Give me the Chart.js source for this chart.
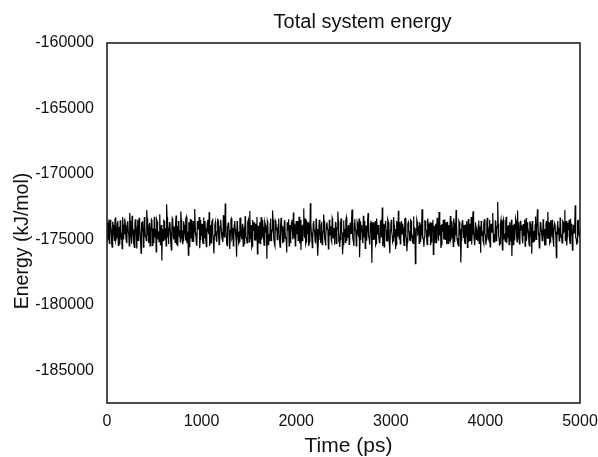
<!DOCTYPE html>
<html><head><meta charset="utf-8">
<script src="https://cdn.jsdelivr.net/npm/chart.js@4/dist/chart.umd.min.js"></script>
<style>html,body{margin:0;padding:0;background:#fff}#wrap{width:598px;height:457px}</style>
</head><body><div id="wrap"><canvas id="c" width="598" height="457"></canvas></div>
<script>
const chartTitle = 'Total system energy';
const xTitle = 'Time (ps)';
const yTitle = 'Energy (kJ/mol)';
const timeStepPs = 10;
const xTicks = [0, 1000, 2000, 3000, 4000, 5000];
const yTicks = [-185000, -180000, -175000, -170000, -165000, -160000];
const yMin = -187500, yMax = -160000;
const xMin = 0, xMax = 5000;
// samples at t = 0, 10, 20, ... 5000 ps
const energies = [
-174120,-175050,-173480,-174760,-173920,-175380,-173650,-174480,-175120,-173310,-174870,-173760,-175460,-174050,-173540,-174960,-175700,-173880,-174330,-173420,
-174910,-175230,-173590,-174640,-172980,-174780,-175340,-173820,-174250,-175620,-173460,-174700,-173990,-175080,-173350,-174560,-176050,-174020,-173610,-175190,
-173880,-174720,-172760,-174450,-175280,-173740,-174910,-173500,-175470,-174180,-173270,-174830,-175960,-173650,-174390,-175180,-173080,-174600,-176620,-174230,
-173560,-175010,-174140,-172310,-174860,-175350,-173720,-174470,-175810,-173390,-174660,-174020,-175240,-173180,-174790,-175520,-173840,-174300,-172880,-174950,
-175380,-173630,-174520,-175090,-173270,-174810,-176200,-174060,-173450,-174880,-175150,-173600,-174410,-172690,-174740,-175430,-173890,-174210,-175670,-173500,
-174630,-175040,-173330,-174870,-174160,-175560,-173710,-174380,-172920,-174990,-175270,-173560,-174520,-176080,-173940,-174310,-175190,-173420,-174760,-175390,
-173680,-174450,-175020,-173150,-174820,-172260,-174590,-175480,-173790,-174260,-175740,-173470,-174930,-174110,-175300,-173590,-174680,-176330,-173860,-174400,
-175160,-173380,-174790,-173920,-175510,-174170,-173240,-174860,-175270,-173700,-174430,-172840,-174970,-175620,-173530,-174350,-175080,-173810,-174690,-176110,
-173960,-174540,-175320,-173290,-174780,-174060,-175450,-173640,-174300,-176480,-173770,-174880,-175140,-173410,-174610,-172790,-174920,-175360,-173580,-174250,
-175030,-173860,-174710,-175590,-173350,-174480,-173990,-175210,-173540,-174820,-176010,-174090,-173470,-174950,-175280,-173720,-174380,-172950,-174860,-175490,
-173610,-174560,-175070,-173280,-174740,-175820,-173900,-174320,-172640,-174890,-175350,-173550,-174610,-174050,-175180,-172240,-174470,-175640,-173780,-174290,
-175110,-173420,-174840,-176250,-173990,-174530,-175300,-173650,-174770,-173110,-174920,-175460,-173830,-174200,-175730,-173500,-174650,-175060,-173360,-174880,
-174130,-175400,-173690,-174370,-172870,-174950,-175590,-173800,-174460,-176140,-173560,-174790,-175230,-173320,-174610,-174010,-175380,-173730,-174540,-172720,
-174870,-175500,-173470,-174290,-175160,-173880,-174720,-176370,-173610,-174450,-175040,-173190,-174830,-175690,-173940,-174360,-172980,-174900,-175330,-173570,
-176780,-174250,-173720,-174980,-175420,-173400,-174630,-174080,-175260,-173660,-174810,-172560,-174540,-175580,-173850,-174310,-175120,-173490,-174740,-176060,
-173980,-174420,-175210,-173300,-174860,-175740,-173760,-174190,-172820,-174970,-175350,-173620,-174580,-174100,-175470,-173440,-174700,-175900,-173810,-174350,
-175040,-173530,-174760,-175170,-173260,-174880,-176850,-174230,-173670,-174520,-175300,-173890,-174650,-172700,-174940,-175560,-173590,-174280,-175090,-173410,
-174800,-174040,-175440,-173730,-174390,-176150,-173960,-174610,-175250,-173350,-174850,-172910,-174560,-175660,-173840,-174300,-175010,-173480,-174720,-175380,
-173650,-174470,-175120,-173210,-174830,-174150,-175530,-173770,-174410,-172750,-174960,-175290,-173600,-174680,-176760,-174010,-173520,-174890,-175190,-173860,
-174340,-175610,-173440,-174750,-175070,-173290,-174590,-172850,-174920,-175450,-173700,-174260,-175140,-173560,-174800,-176020,-173930,-174380,-175320,-173470,
-174690,-175020,-173360,-174870,-174090,-175570,-173810,-174440,-172980,-174930,-175240,-173640,-174220,-172150,-174760,-175480,-173750,-174330,-175800,-173520,
-174610,-175150,-173280,-174840,-173990,-175400,-173690,-174480,-176270,-173900,-174560,-175080,-173430,-174770,-172800,-174990,-175350,-173580,-174270,-175060,
-173830,-174700,-175510,-173380,-174450,-174060,-175230,-173620,-174820,-176100,-173950,-174360,-175170,-173250,-174880,-172700,-174520,-175650,-173710,-174300,
-175090,-173470,-174740,-175420,-173860,-174210,-172910,-174960,-175300,-173540,-174620,-174000,-175560,-173780,-174410,-176400,-173920,-174580,-175120,-173330,
-174850,-175270,-173600,-174390,-172760,-174970,-175460,-173740,-174280,-175030,-173420,-174720,-175830,-173890,-174500,-172400,-174930,-175210,-173560,-174350,
-174800
];
// samples at t = 5, 15, 25, ... 4995 ps
const energiesMid = [
-173700,-174900,-175300,-173500,-174300,-175600,-173900,-174700,-173400,-175100,-174200,-173600,-174800,-175400,-173800,-174500,-173300,-175000,-174600,-173900,
-175200,-173700,-174400,-175500,-173600,-174900,-173200,-174600,-175300,-173800,-174100,-175700,-173500,-174800,-174000,-175200,-173700,-174400,-175600,-173300,
-174800,-175100,-173400,-174300,-173900,-175500,-174500,-173600,-174900,-175300,-173800,-174200,-173500,-175000,-174700,-173400,-175400,-173900,-174400,-175100,
-173600,-174700,-175500,-173300,-174100,-174900,-173700,-175300,-174200,-173500,-175000,-174600,-173800,-175400,-174000,-173600,-174800,-175200,-173500,-174300,
-175100,-173900,-174600,-173400,-175300,-174400,-173700,-175600,-174000,-173500,-174900,-175200,-173800,-174500,-175400,-173600,-174200,-173300,-175000,-174700,
-173800,-175300,-174300,-173600,-175100,-174800,-173500,-174600,-175500,-173900,-174100,-173400,-175200,-174700,-173700,-175000,-174400,-173600,-175400,-174000,
-173500,-174900,-175200,-173800,-174400,-173600,-175300,-174100,-173700,-175000,-174500,-173400,-174800,-175500,-173900,-174200,-175100,-173600,-174700,-175300,
-173400,-174600,-175000,-173800,-174300,-175400,-173600,-174900,-174100,-173500,-175200,-174700,-173900,-175500,-174000,-173700,-174800,-175100,-173300,-174500,
-175300,-173700,-174400,-175000,-173500,-174800,-175200,-173900,-174200,-173600,-175400,-174600,-173800,-175100,-174300,-173500,-174900,-175500,-173700,-174100,
-174700,-173400,-175200,-174000,-173800,-175300,-174500,-173600,-174900,-175100,-173700,-174300,-175500,-173900,-174600,-173500,-175000,-174200,-173800,-175400,
-174000,-173600,-174800,-175300,-173500,-174400,-175100,-173900,-174700,-173400,-175200,-174300,-173700,-175500,-174100,-173800,-174900,-175000,-173600,-174500,
-175300,-173800,-174200,-175000,-173500,-174700,-173900,-175400,-174400,-173600,-175100,-174800,-173700,-174300,-175500,-173900,-174000,-175200,-173500,-174600,
-174900,-173700,-175300,-174100,-173600,-174800,-175000,-173400,-174500,-175400,-173800,-174200,-173500,-175100,-174700,-173900,-175300,-174000,-173600,-174900,
-175200,-173800,-174300,-175500,-173700,-174600,-173400,-175000,-174400,-173900,-175300,-174100,-173600,-174800,-175100,-173500,-174700,-175400,-173800,-174200,
-173700,-175000,-174500,-173600,-175300,-174000,-173900,-174800,-175200,-173500,-174400,-175500,-173800,-174100,-173600,-175100,-174600,-173700,-175400,-174300,
-173500,-174700,-175100,-173900,-174200,-175400,-173600,-174800,-174000,-173700,-175300,-174500,-173800,-175000,-174300,-173400,-174900,-175200,-173700,-174400,
-175100,-173600,-174700,-175300,-173800,-174100,-175500,-173500,-174600,-174000,-173700,-175200,-174400,-173900,-175000,-174800,-173600,-174300,-175400,-173800,
-174500,-173700,-175200,-174000,-173500,-174900,-175300,-173800,-174300,-173600,-175100,-174700,-173900,-175400,-174200,-173500,-174800,-175000,-173700,-174600,
-175300,-173900,-174100,-175000,-173600,-174700,-173400,-175200,-174500,-173800,-174900,-175500,-173700,-174200,-175100,-173600,-174400,-173900,-175300,-174800,
-173600,-174300,-175200,-173800,-174600,-175400,-173500,-174100,-174900,-173700,-175000,-174400,-173900,-175300,-174000,-173600,-174700,-175100,-173800,-174500,
-175400,-173700,-174200,-175000,-173500,-174800,-174300,-173900,-175200,-174600,-173600,-175100,-174000,-173800,-174900,-175300,-173500,-174400,-173700,-175000,
-174700,-173600,-175300,-174100,-173900,-174800,-175100,-173500,-174500,-175400,-173800,-174000,-173600,-175200,-174600,-173700,-175000,-174300,-173900,-175300,
-174200,-173500,-174900,-175100,-173700,-174400,-175500,-173800,-174100,-173600,-175200,-174700,-173900,-175000,-174300,-173500,-174800,-175300,-173700,-174600,
-175100,-173800,-174200,-175400,-173600,-174900,-174000,-173700,-175200,-174500,-173500,-175000,-174300,-173900,-174700,-175300,-173600,-174100,-175000,-173800,
-174600,-175200,-173700,-174300,-175100,-173600,-174800,-174000,-173500,-175300,-174400,-173800,-175000,-174200,-173700,-174900,-175400,-173600,-174500,-174800
];

const FONT = '"Liberation Sans", Arial, sans-serif';

function buildPoints() {
  const pts = [];
  for (let i = 0; i < energies.length; i++) {
    pts.push({ x: i * timeStepPs, y: energies[i] });
    if (i < energiesMid.length) pts.push({ x: i * timeStepPs + timeStepPs / 2, y: energiesMid[i] });
  }
  return pts;
}

const framePlugin = {
  id: 'frame',
  afterDatasetsDraw(chart) {
    const a = chart.chartArea, ctx = chart.ctx;
    ctx.save();
    ctx.strokeStyle = '#222';
    ctx.lineWidth = 1.6;
    ctx.strokeRect(a.left, a.top, a.right - a.left, a.bottom - a.top);
    ctx.restore();
  }
};

const titlesPlugin = {
  id: 'titles',
  afterDraw(chart) {
    const a = chart.chartArea, ctx = chart.ctx;
    ctx.save();
    ctx.fillStyle = '#111';
    ctx.textAlign = 'center';
    ctx.textBaseline = 'middle';
    ctx.font = '20px ' + FONT;
    ctx.fillText(chartTitle, (a.left + a.right) / 2 + 19, 22);
    ctx.font = '21px ' + FONT;
    ctx.fillText(xTitle, (a.left + a.right) / 2 + 5, 446);
    ctx.translate(23, (a.top + a.bottom) / 2 + 18);
    ctx.rotate(-Math.PI / 2);
    ctx.font = '19.5px ' + FONT;
    ctx.fillText(yTitle, 0, 0);
    ctx.restore();
  }
};

new Chart(document.getElementById('c'), {
  type: 'line',
  data: {
    datasets: [{
      data: buildPoints(),
      borderColor: '#000',
      borderWidth: 1.2,
      pointRadius: 0,
      fill: false,
      tension: 0
    }]
  },
  options: {
    responsive: false,
    animation: false,
    devicePixelRatio: 1,
    layout: { padding: { top: 43, right: 18, bottom: 0, left: 0 } },
    plugins: { legend: { display: false }, tooltip: { enabled: false }, title: { display: false } },
    scales: {
      x: {
        type: 'linear', min: xMin, max: xMax,
        afterBuildTicks: s => { s.ticks = xTicks.map(v => ({ value: v })); },
        afterFit: s => { s.height = 54; s.paddingLeft = 0; s.paddingRight = 0; },
        grid: { display: false, drawTicks: false },
        border: { display: false },
        ticks: { padding: 9, color: '#111', font: { family: FONT, size: 16 }, maxRotation: 0, callback: v => String(v) }
      },
      y: {
        type: 'linear', min: yMin, max: yMax,
        afterBuildTicks: s => { s.ticks = yTicks.map(v => ({ value: v })); },
        afterFit: s => { s.width = 107; s.paddingTop = 0; s.paddingBottom = 0; },
        grid: { display: false, drawTicks: false },
        border: { display: false },
        ticks: { padding: 13, color: '#111', font: { family: FONT, size: 16 }, callback: v => String(v) }
      }
    }
  },
  plugins: [framePlugin, titlesPlugin]
});
</script>
</body></html>
